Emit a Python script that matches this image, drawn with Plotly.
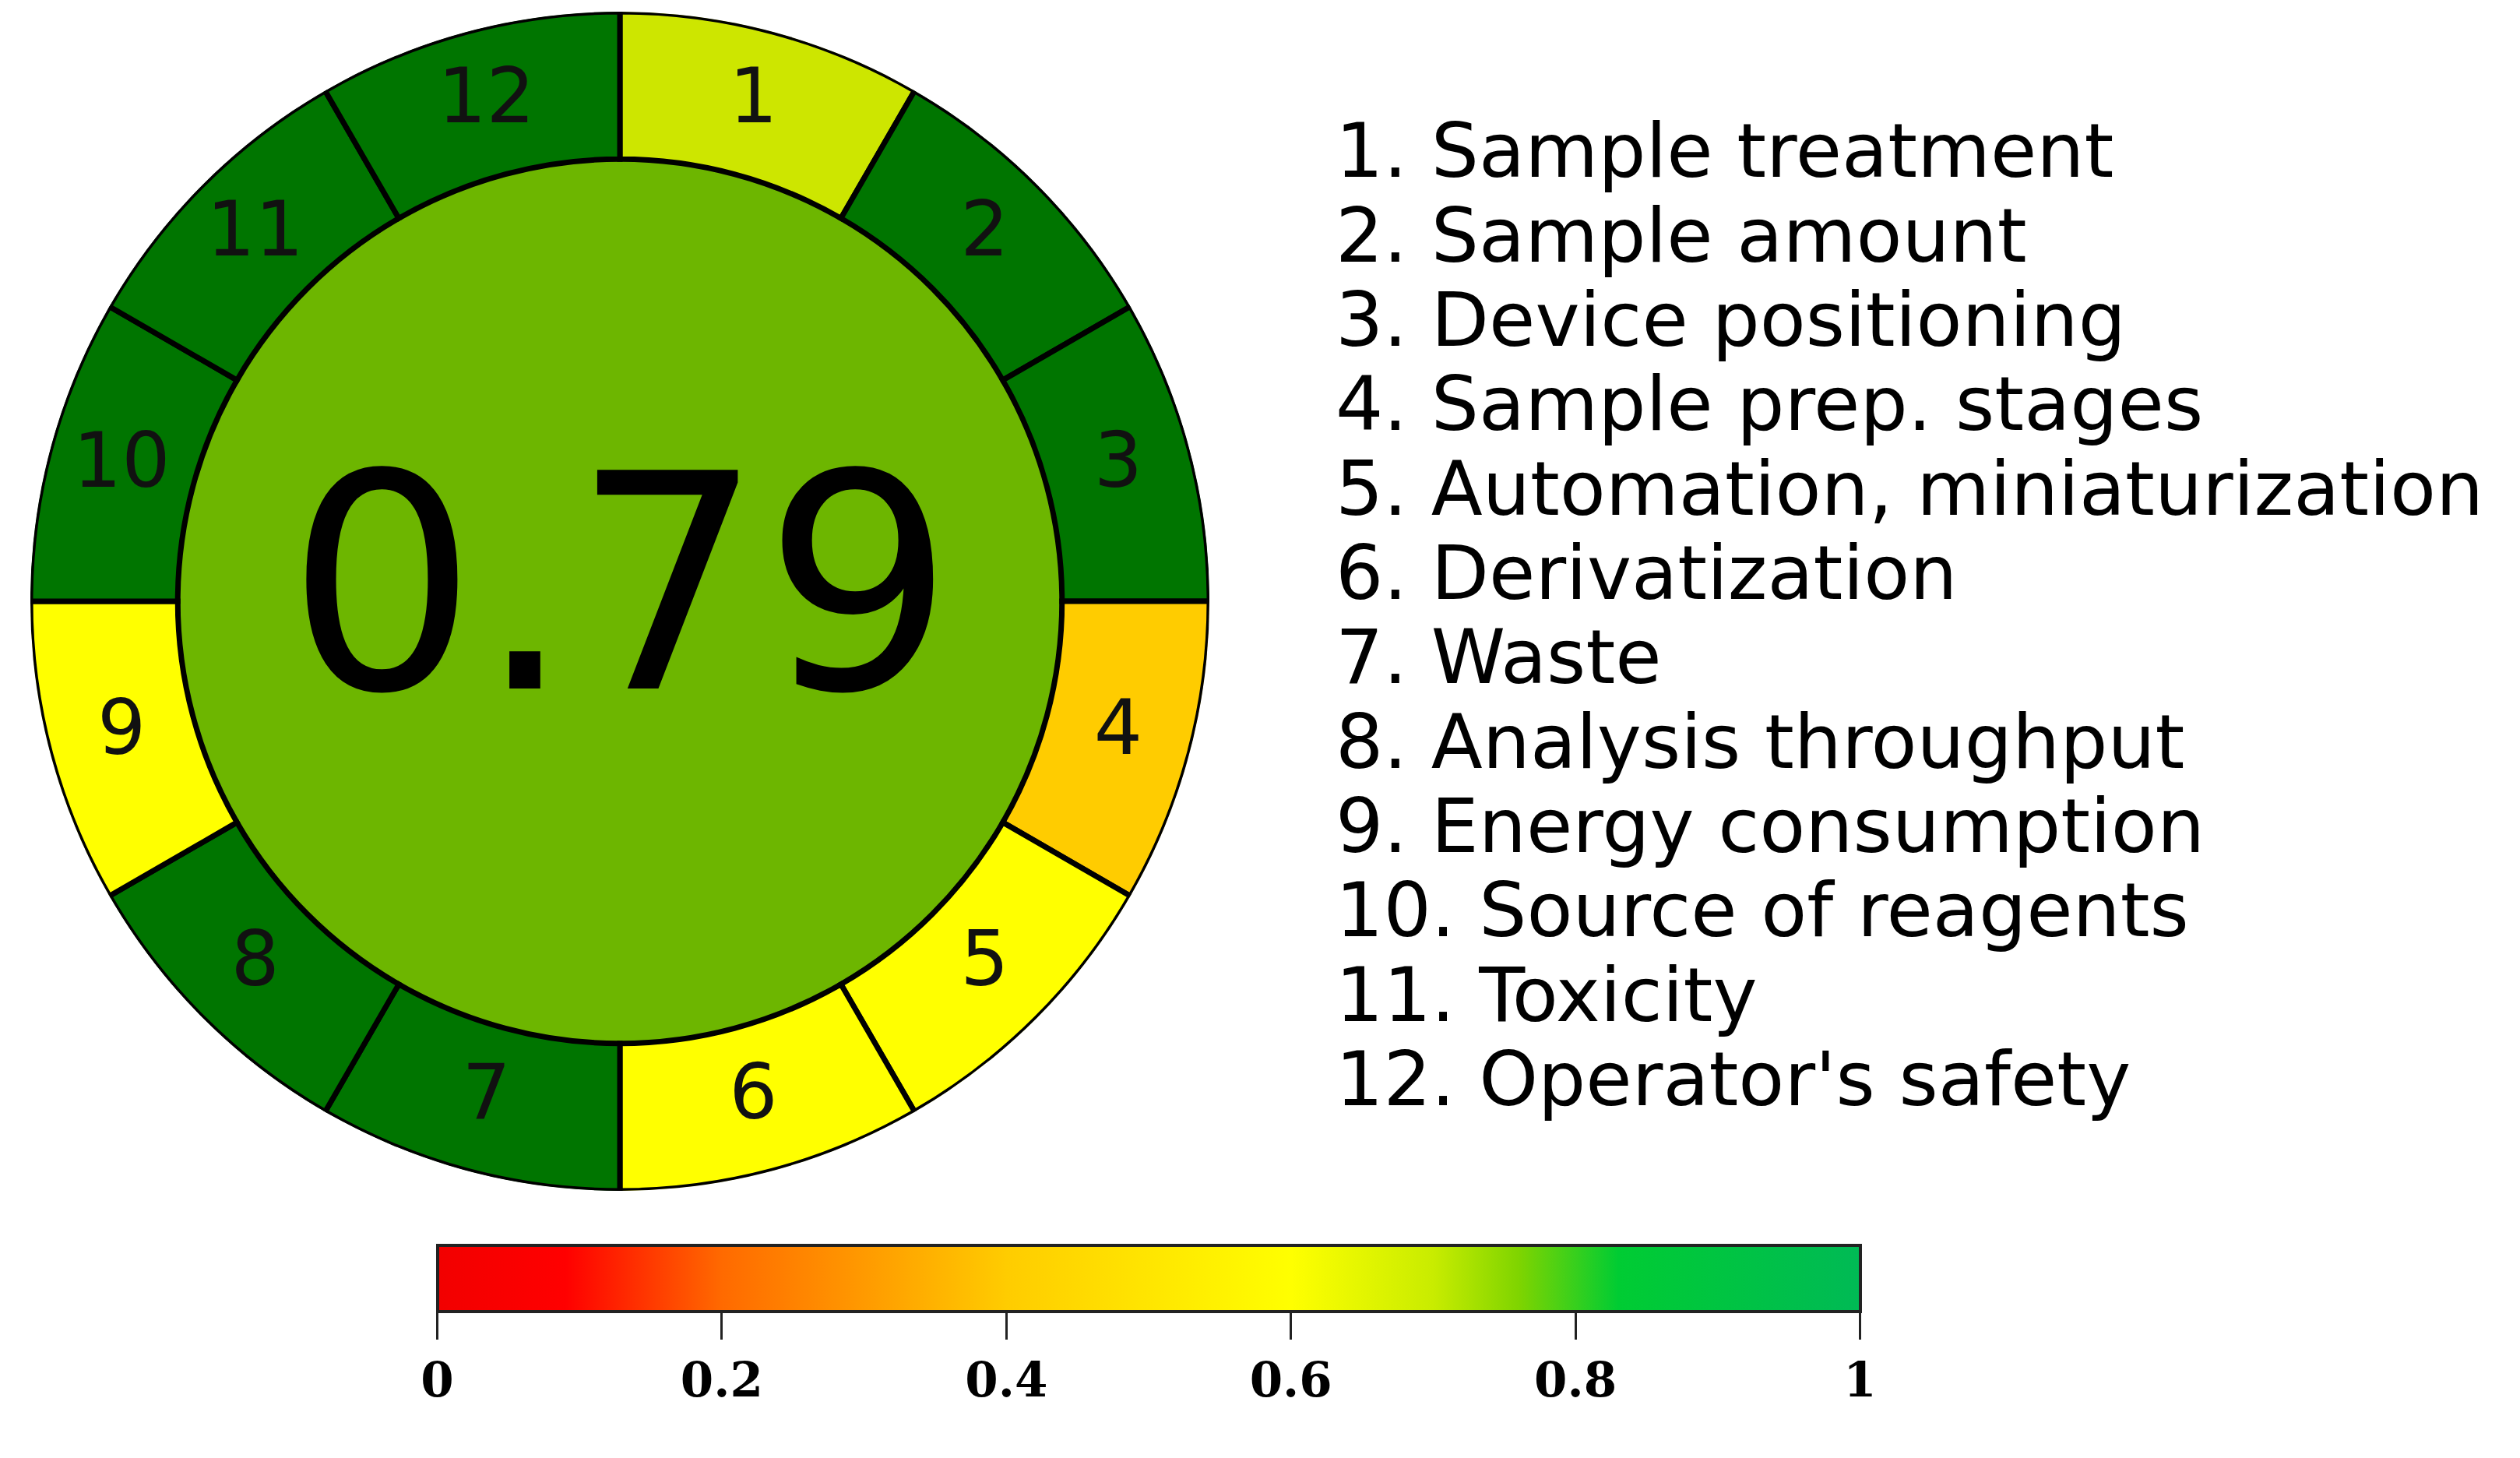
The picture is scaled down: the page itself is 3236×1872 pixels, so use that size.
import plotly.graph_objects as go

# AGREEprep criteria and the colour each segment was given
criteria = [
    "Sample treatment", "Sample amount", "Device positioning",
    "Sample prep. stages", "Automation, miniaturization", "Derivatization",
    "Waste", "Analysis throughput", "Energy consumption",
    "Source of reagents", "Toxicity", "Operator's safety",
]
ring_colors = [
    "#cde600", "#007500", "#007500", "#ffcc00", "#ffff00", "#ffff00",
    "#007500", "#007500", "#ffff00", "#007500", "#007500", "#007500",
]
score = 0.79
centre_color = "#6db600"

# colour scale shown under the pictogram
bar_ticks = [0, 0.2, 0.4, 0.6, 0.8, 1]
bar_tick_text = ["0", "0.2", "0.4", "0.6", "0.8", "1"]
bar_scale = [
    [0.0, "#f20000"], [0.09, "#ff0000"], [0.2, "#ff6a00"], [0.3, "#ff9a00"],
    [0.4, "#ffcc00"], [0.6, "#ffff00"], [0.7, "#c8ec00"], [0.76, "#7fd400"],
    [0.83, "#00cc33"], [1.0, "#00ba55"],
]

W, H = 3236, 1872
cx, cy, R = 788, 764, 757  # pixel centre / radius of the pictogram

n = len(criteria)
step = 360 / n
thetas = [step / 2 + step * i for i in range(n)]

fig = go.Figure()

# inner disk
fig.add_trace(go.Barpolar(
    r=[0.75], theta=[0], width=[360],
    marker=dict(color=centre_color, line=dict(width=0)),
    hoverinfo="skip", showlegend=False,
))

# outer ring of 12 criteria
fig.add_trace(go.Barpolar(
    r=[0.25] * n, base=[0.75] * n, theta=thetas, width=[step] * n,
    marker=dict(color=ring_colors, line=dict(color="black", width=7)),
    hovertext=criteria, showlegend=False,
))

# segment numbers
fig.add_trace(go.Scatterpolar(
    r=[0.875] * n, theta=thetas, mode="text",
    text=[str(i + 1) for i in range(n)],
    textfont=dict(family="DejaVu Sans", size=98, color="#111111"),
    hoverinfo="skip", showlegend=False,
))

# invisible trace that carries the colour bar
fig.add_trace(go.Scatter(
    x=[0, 1], y=[0, 0], mode="markers",
    marker=dict(
        color=[0, 1], cmin=0, cmax=1, colorscale=bar_scale, opacity=0,
        showscale=True,
        colorbar=dict(
            orientation="h", lenmode="pixels", len=1827,
            thicknessmode="pixels", thickness=85,
            x=1467 / W, xanchor="center", y=1 - 1591 / H, yanchor="top",
            xpad=0, ypad=0, outlinecolor="#222222", outlinewidth=4,
            tickvals=bar_ticks, ticktext=bar_tick_text,
            ticks="outside", ticklen=34, tickwidth=3, tickcolor="#222222",
            tickfont=dict(family="DejaVu Serif", size=61, color="black", weight="bold"),
        ),
    ),
    hoverinfo="skip", showlegend=False,
))

annotations = [dict(
    text=f"{score:.2f}", x=cx / W, y=1 - (cy - 21) / H,
    xref="paper", yref="paper", xanchor="center", yanchor="middle",
    showarrow=False, font=dict(family="DejaVu Sans", size=385, color="black"),
)]
for i, name in enumerate(criteria):
    annotations.append(dict(
        text=f"{i + 1}. {name}", x=1705 / W, y=1 - (186 + 108.3 * i) / H,
        xref="paper", yref="paper", xanchor="left", yanchor="middle",
        showarrow=False, font=dict(family="DejaVu Sans", size=96.5, color="black"),
    ))

fig.update_layout(
    width=W, height=H, margin=dict(l=0, r=0, t=0, b=0),
    paper_bgcolor="white", plot_bgcolor="white",
    polar=dict(
        domain=dict(x=[(cx - R) / W, (cx + R) / W], y=[1 - (cy + R) / H, 1 - (cy - R) / H]),
        bgcolor="rgba(0,0,0,0)",
        radialaxis=dict(range=[0, 1], visible=False),
        angularaxis=dict(rotation=90, direction="clockwise", visible=False),
    ),
    xaxis=dict(visible=False), yaxis=dict(visible=False),
    annotations=annotations,
)

fig.write_html("out.html")
